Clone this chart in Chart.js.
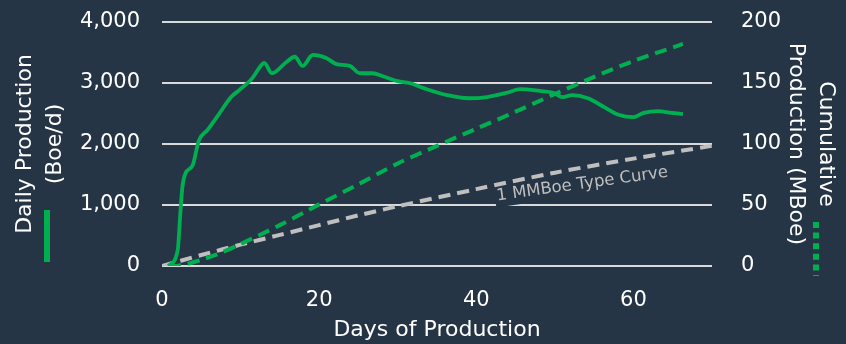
<!DOCTYPE html>
<html>
<head>
<meta charset="utf-8">
<script src="https://cdn.jsdelivr.net/npm/chart.js@4.4.1/dist/chart.umd.min.js"></script>
<style>
  html, body { margin: 0; padding: 0; background: #263545; }
</style>
</head>
<body>
<canvas id="prodChart" width="846" height="344"></canvas>
<script>
// Daily rate (Boe/d) by day on production
const rateDays = [0.8, 2.0, 2.3, 2.6, 3.0, 3.9, 4.7, 5.8, 7.3, 8.8, 9.8, 11.5, 12.4, 13.0, 14.0, 15.8, 16.9, 17.9, 19.2, 20.9, 22.2, 23.9, 25.2, 26.8, 28.1, 30.0, 31.5, 33.2, 36.3, 39.0, 41.4, 43.9, 45.6, 48.1, 49.8, 51.0, 52.2, 54.2, 56.2, 58.1, 60.0, 61.3, 63.1, 64.8, 66.3];
const dailyRate = [0, 260, 800, 1300, 1520, 1650, 2060, 2230, 2500, 2770, 2880, 3080, 3250, 3330, 3160, 3340, 3430, 3280, 3460, 3410, 3310, 3280, 3160, 3160, 3110, 3030, 3000, 2920, 2800, 2750, 2770, 2840, 2900, 2870, 2840, 2770, 2800, 2750, 2610, 2480, 2440, 2510, 2540, 2510, 2490];

// Cumulative production (MBoe)
const cumDays = [0.9, 2, 3, 5, 7, 10, 15, 20, 25, 30, 35, 40, 45, 50, 55, 60, 66.3];
const cumProd = [0, 0.3, 1.3, 5, 9.5, 18, 33.5, 50.5, 67, 84, 98.5, 112.5, 126.5, 141, 155, 168, 182];

// 1 MMBoe type curve, cumulative (MBoe)
const typeDays = [0, 5, 10, 15, 20, 25, 30, 40, 50, 60, 70];
const typeCum = [0, 9, 17.5, 25.5, 33.5, 41.5, 49, 63, 76.5, 88, 98.5];

const dayTicks = [0, 20, 40, 60];
const rateTicks = [0, 1000, 2000, 3000, 4000];
const cumTicks = [0, 50, 100, 150, 200];

const BG = '#263545';
const GREEN = '#00B050';
const GRAY = '#BFBFBF';
const FONT = '"DejaVu Sans", Verdana, sans-serif';

const pts = (xs, ys) => xs.map((x, i) => ({ x: x, y: ys[i] }));

// fixed side widths, no extra room above the plot for tick labels
const fitSide = w => s => { s.width = w; s.paddingTop = 0; s.paddingBottom = 0; };

const extras = {
  id: 'extras',
  beforeDatasetsDraw(chart) {
    // type curve label along the dashed gray line
    const { ctx, scales } = chart;
    const px = scales.x.getPixelForValue(53.5);
    const py = scales.y1.getPixelForValue(67);
    const txt = '1 MMBoe Type Curve';
    ctx.save();
    ctx.translate(px, py);
    ctx.rotate(-8 * Math.PI / 180);
    ctx.font = '16.5px ' + FONT;
    const w = ctx.measureText(txt).width;
    ctx.fillStyle = BG;
    ctx.fillRect(-w / 2 - 2, -10, w + 4, 21);
    ctx.fillStyle = GRAY;
    ctx.textAlign = 'center';
    ctx.textBaseline = 'middle';
    ctx.fillText(txt, 0, 0);
    ctx.restore();
  },
  afterDraw(chart) {
    // line-style keys under the axis titles
    const { ctx, chartArea } = chart;
    const b = chartArea.bottom;
    ctx.save();
    ctx.strokeStyle = GREEN;
    ctx.lineWidth = 6;
    ctx.beginPath();
    ctx.moveTo(47, b - 56);
    ctx.lineTo(47, b - 4);
    ctx.stroke();
    ctx.setLineDash([6, 4.6]);
    ctx.beginPath();
    ctx.moveTo(816, b - 44);
    ctx.lineTo(816, b + 10);
    ctx.stroke();
    ctx.restore();
  }
};

new Chart(document.getElementById('prodChart'), {
  type: 'line',
  data: {
    datasets: [
      {
        label: 'Daily Production',
        data: pts(rateDays, dailyRate),
        yAxisID: 'y',
        borderColor: GREEN,
        borderWidth: 3.8,
        tension: 0.35,
        cubicInterpolationMode: 'monotone',
        pointRadius: 0
      },
      {
        label: 'Cumulative Production',
        data: pts(cumDays, cumProd),
        yAxisID: 'y1',
        borderColor: GREEN,
        borderWidth: 4,
        borderDash: [12, 7],
        tension: 0.3,
        pointRadius: 0
      },
      {
        label: '1 MMBoe Type Curve',
        data: pts(typeDays, typeCum),
        yAxisID: 'y1',
        borderColor: GRAY,
        borderWidth: 4,
        borderDash: [12, 7],
        tension: 0.3,
        pointRadius: 0
      }
    ]
  },
  options: {
    responsive: false,
    animation: false,
    layout: { padding: { top: 22 } },
    plugins: { legend: { display: false }, tooltip: { enabled: false } },
    scales: {
      x: {
        type: 'linear',
        min: 0,
        max: 70,
        afterBuildTicks: s => { s.ticks = dayTicks.map(v => ({ value: v })); },
        afterFit: s => { s.height = 78; s.paddingLeft = 0; s.paddingRight = 0; },
        grid: { display: false },
        border: { display: false },
        ticks: { color: '#FFFFFF', font: { family: FONT, size: 21 }, padding: 14, maxRotation: 0 },
        title: {
          display: true,
          text: 'Days of Production',
          color: '#FFFFFF',
          font: { family: FONT, size: 22 },
          padding: { top: 0, bottom: 1 }
        }
      },
      y: {
        position: 'left',
        min: 0,
        max: 4000,
        afterBuildTicks: s => { s.ticks = rateTicks.map(v => ({ value: v })); },
        afterFit: fitSide(162),
        grid: { color: '#D9D9D9', lineWidth: 2, drawTicks: false },
        border: { display: false },
        ticks: {
          color: '#FFFFFF',
          font: { family: FONT, size: 21 },
          padding: 22,
          callback: v => v.toLocaleString('en-US')
        },
        title: {
          display: true,
          text: ['Daily Production', '(Boe/d)'],
          color: '#FFFFFF',
          font: { family: FONT, size: 22, lineHeight: 1.36 },
          padding: { top: 10, bottom: 0 }
        }
      },
      y1: {
        position: 'right',
        min: 0,
        max: 200,
        afterBuildTicks: s => { s.ticks = cumTicks.map(v => ({ value: v })); },
        afterFit: fitSide(134),
        grid: { display: false },
        border: { display: false },
        ticks: { color: '#FFFFFF', font: { family: FONT, size: 21 }, padding: 21 },
        title: {
          display: true,
          text: ['Cumulative', 'Production (MBoe)'],
          color: '#FFFFFF',
          font: { family: FONT, size: 22, lineHeight: 1.36 },
          padding: { top: 5, bottom: 0 }
        }
      }
    }
  },
  plugins: [extras]
});
</script>
</body>
</html>
